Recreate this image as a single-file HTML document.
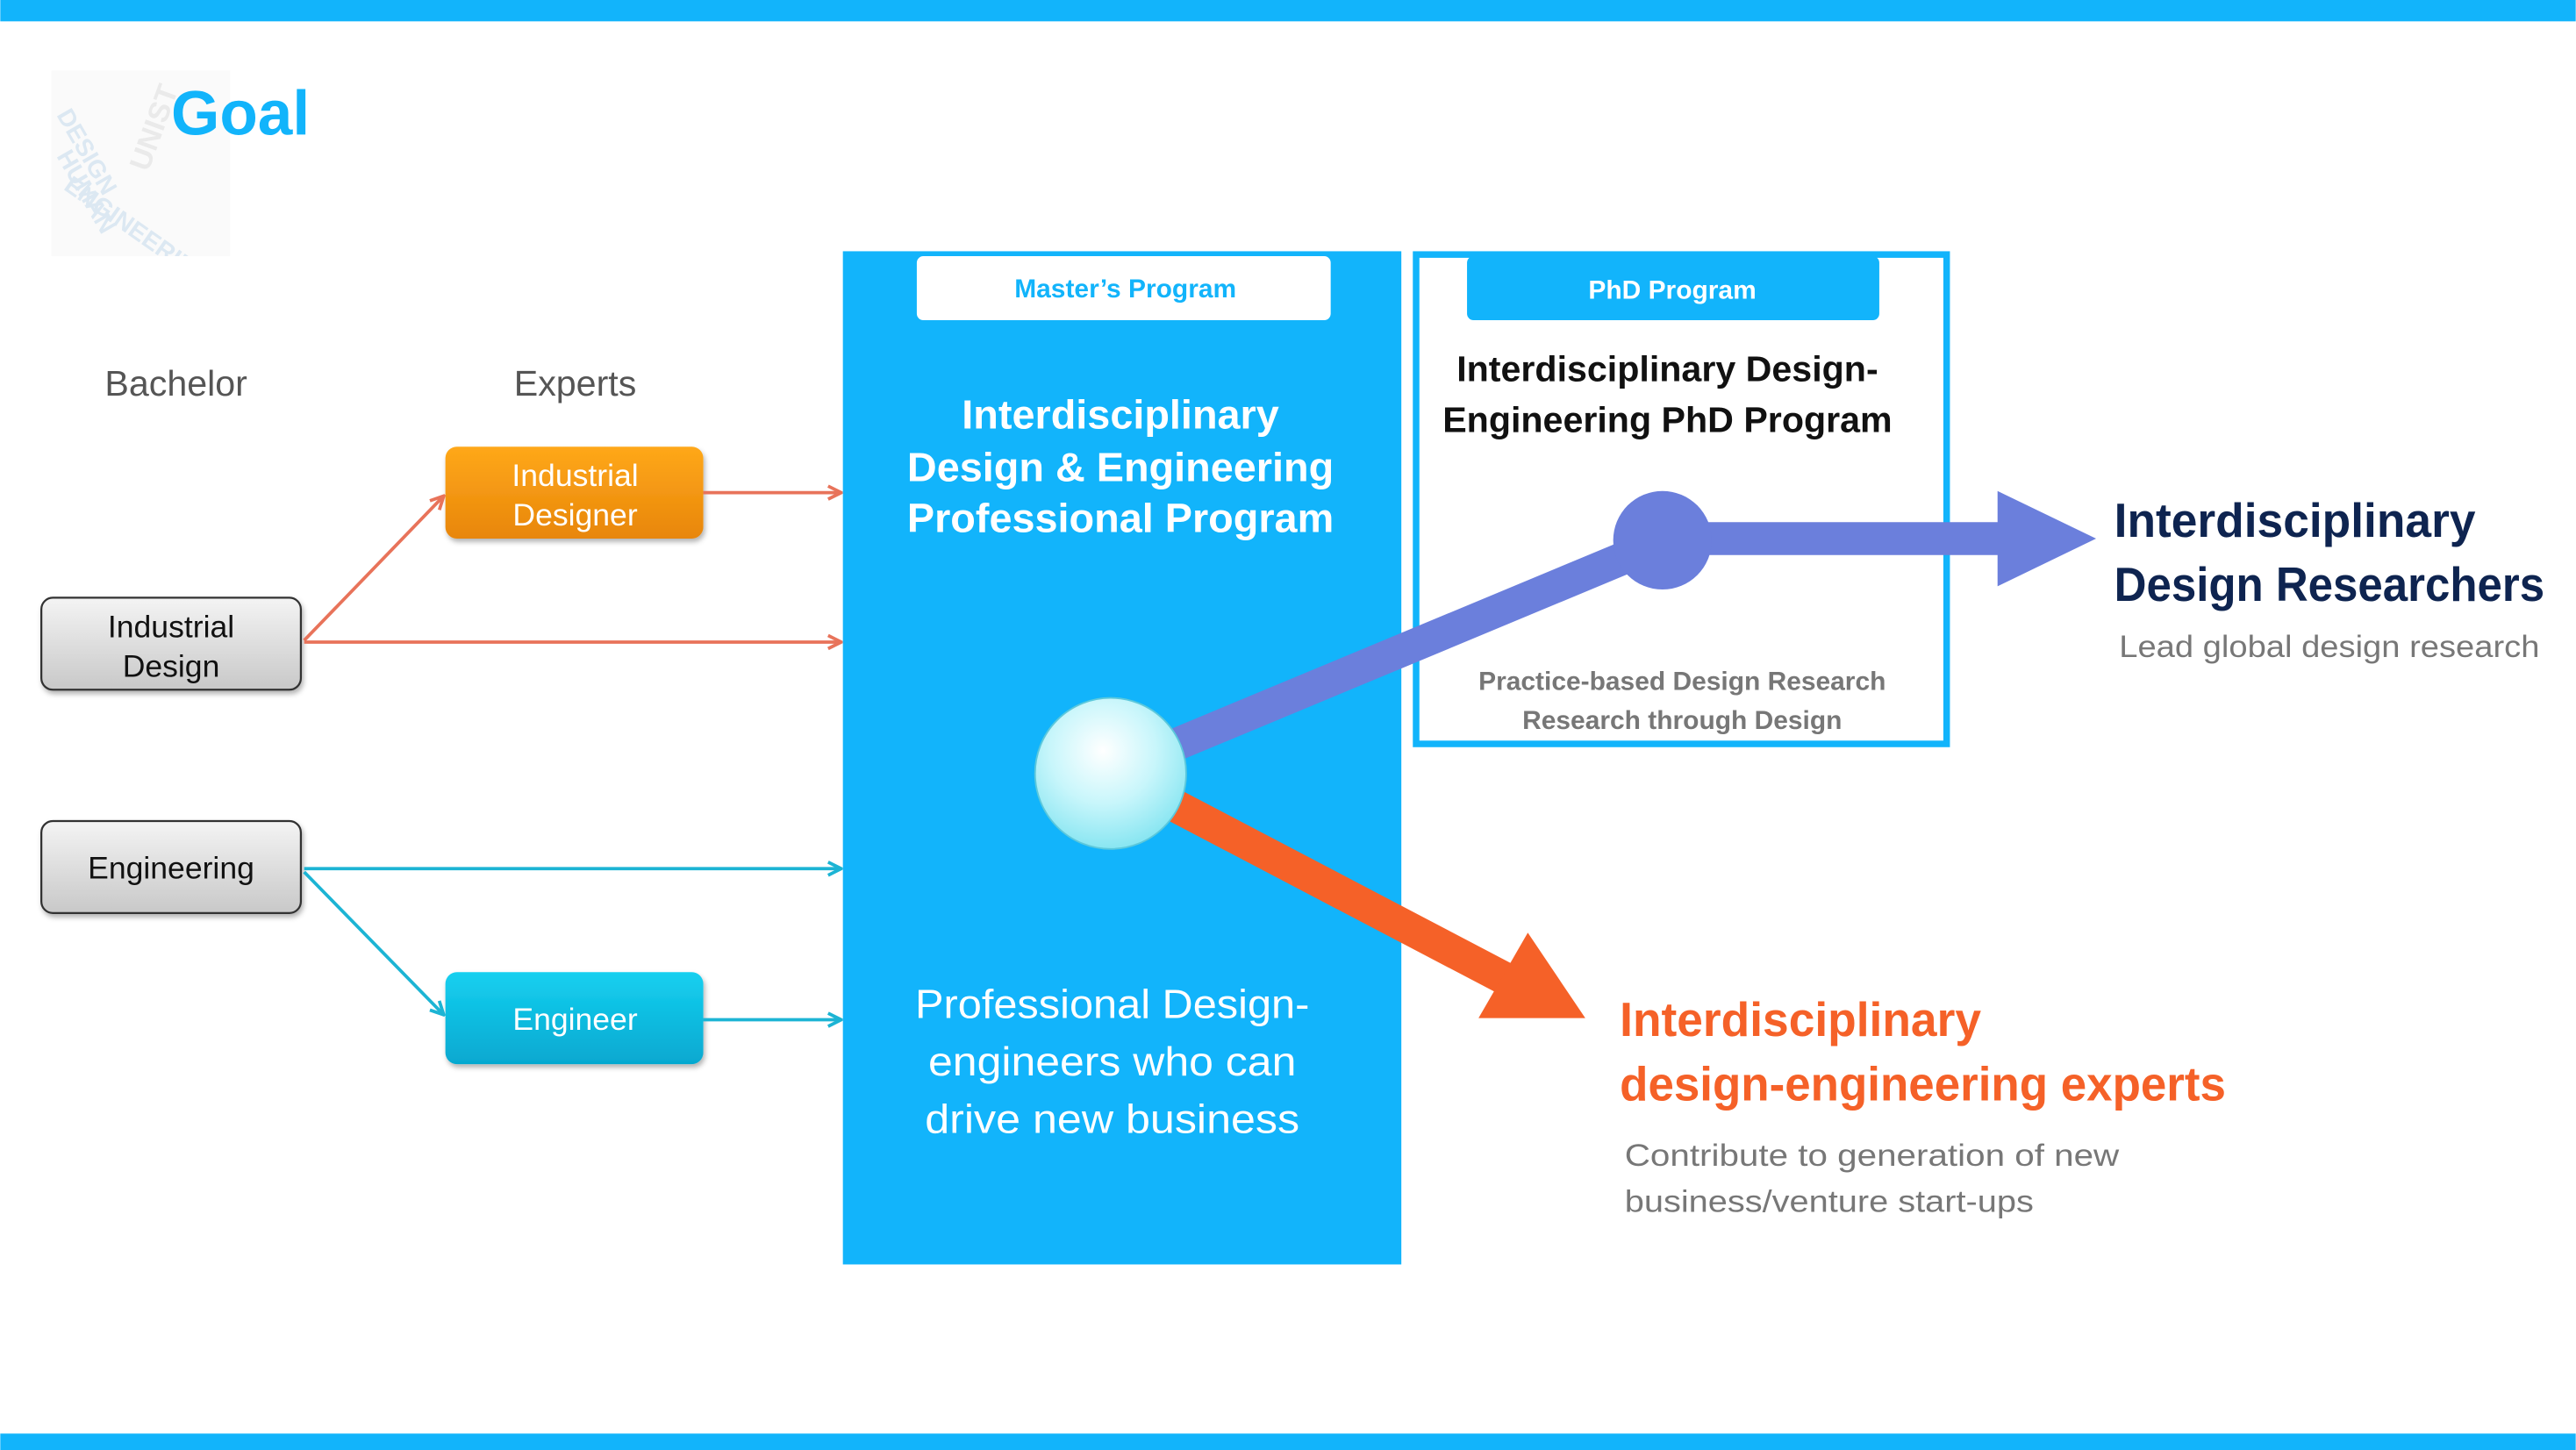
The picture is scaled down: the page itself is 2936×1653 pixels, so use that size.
<!DOCTYPE html>
<html><head><meta charset="utf-8"><style>
html,body{margin:0;padding:0;background:#fff;}
svg{display:block;}
text{font-family:"Liberation Sans",sans-serif;}
</style></head><body>
<svg width="2936" height="1653" viewBox="0 0 1568 883" xmlns="http://www.w3.org/2000/svg">
<defs>
<linearGradient id="gray" x1="0" y1="0" x2="0" y2="1"><stop offset="0" stop-color="#f4f4f4"/><stop offset="1" stop-color="#c8c8c8"/></linearGradient>
<linearGradient id="orange" x1="0" y1="0" x2="0" y2="1"><stop offset="0" stop-color="#ffa81a"/><stop offset="1" stop-color="#e8860a"/></linearGradient>
<linearGradient id="cyan" x1="0" y1="0" x2="0" y2="1"><stop offset="0" stop-color="#16d0f0"/><stop offset="1" stop-color="#06a8d0"/></linearGradient>
<radialGradient id="ball" cx="0.45" cy="0.35" r="0.7"><stop offset="0" stop-color="#ffffff"/><stop offset="0.5" stop-color="#c8f6fb"/><stop offset="1" stop-color="#7ee3f0"/></radialGradient>
<marker id="ao" markerWidth="10" markerHeight="10" refX="9" refY="5" orient="auto" markerUnits="userSpaceOnUse"><path d="M1,1 L9,5 L1,9" fill="none" stroke="#e8735a" stroke-width="2"/></marker>
<marker id="ac" markerWidth="10" markerHeight="10" refX="9" refY="5" orient="auto" markerUnits="userSpaceOnUse"><path d="M1,1 L9,5 L1,9" fill="none" stroke="#1cb4d4" stroke-width="2"/></marker>
<clipPath id="lc"><rect x="31" y="43" width="109" height="113"/></clipPath>
<filter id="sh" x="-10%" y="-10%" width="130%" height="140%"><feDropShadow dx="1" dy="2" stdDeviation="1.5" flood-opacity="0.3"/></filter>
</defs>
<rect x="0" y="0" width="1568" height="13" fill="#12b4fb"/>
<rect x="0" y="873" width="1568" height="10" fill="#12b4fb"/>
<!-- logo -->
<rect x="31" y="43" width="109" height="113" fill="#fafafa"/>
<g clip-path="url(#lc)">
<text x="34" y="70" font-size="15" font-weight="bold" fill="#dce8f2" transform="rotate(60 34 70)">DESIGN</text>
<text x="34" y="95" font-size="15" font-weight="bold" fill="#dce8f2" transform="rotate(60 34 95)">HUMAN</text>
<text x="38" y="115" font-size="15" font-weight="bold" fill="#dce8f2" transform="rotate(35 38 115)">ENGINEERING</text>
<text x="90" y="105" font-size="18" font-weight="bold" fill="#eaeaea" transform="rotate(-70 90 105)">UNIST</text>
</g>
<text x="104" y="82" font-size="38" font-weight="bold" fill="#12b4fb">Goal</text>
<text x="107" y="241" font-size="22" fill="#555" text-anchor="middle">Bachelor</text>
<text x="350" y="241" font-size="22" fill="#555" text-anchor="middle">Experts</text>
<!-- bachelor boxes -->
<rect x="25" y="364" width="158" height="56" rx="7" fill="url(#gray)" stroke="#333" stroke-width="1.2" filter="url(#sh)"/>
<text x="104" y="388" font-size="19" fill="#111" text-anchor="middle">Industrial</text>
<text x="104" y="412" font-size="19" fill="#111" text-anchor="middle">Design</text>
<rect x="25" y="500" width="158" height="56" rx="7" fill="url(#gray)" stroke="#333" stroke-width="1.2" filter="url(#sh)"/>
<text x="104" y="535" font-size="19" fill="#111" text-anchor="middle">Engineering</text>
<!-- expert boxes -->
<rect x="271" y="272" width="157" height="56" rx="7" fill="url(#orange)" filter="url(#sh)"/>
<text x="350" y="296" font-size="19" fill="#fff" text-anchor="middle">Industrial</text>
<text x="350" y="320" font-size="19" fill="#fff" text-anchor="middle">Designer</text>
<rect x="271" y="592" width="157" height="56" rx="7" fill="url(#cyan)" filter="url(#sh)"/>
<text x="350" y="627" font-size="19" fill="#fff" text-anchor="middle">Engineer</text>
<!-- arrows -->
<g stroke="#e8735a" stroke-width="2" fill="none">
<line x1="185" y1="390" x2="270" y2="302" marker-end="url(#ao)"/>
<line x1="185" y1="391" x2="512" y2="391" marker-end="url(#ao)"/>
<line x1="428" y1="300" x2="512" y2="300" marker-end="url(#ao)"/>
</g>
<g stroke="#1cb4d4" stroke-width="2" fill="none">
<line x1="185" y1="529" x2="512" y2="529" marker-end="url(#ac)"/>
<line x1="185" y1="531" x2="270" y2="618" marker-end="url(#ac)"/>
<line x1="428" y1="621" x2="512" y2="621" marker-end="url(#ac)"/>
</g>
<!-- master -->
<rect x="513" y="153" width="340" height="617" fill="#12b4fb"/>
<rect x="558" y="156" width="252" height="39" rx="4" fill="#fff"/>
<text x="685" y="181" font-size="16" font-weight="bold" fill="#12b4fb" text-anchor="middle">Master’s Program</text>
<g font-size="25" font-weight="bold" fill="#fff" text-anchor="middle">
<text x="682" y="261">Interdisciplinary</text>
<text x="682" y="293">Design &amp; Engineering</text>
<text x="682" y="324">Professional Program</text>
</g>
<g font-size="25" fill="#fff" text-anchor="middle">
<text x="677" y="620" textLength="240" lengthAdjust="spacingAndGlyphs">Professional Design-</text>
<text x="677" y="655" textLength="224" lengthAdjust="spacingAndGlyphs">engineers who can</text>
<text x="677" y="690" textLength="228" lengthAdjust="spacingAndGlyphs">drive new business</text>
</g>
<!-- PhD -->
<rect x="862" y="155" width="323" height="298" fill="#fff" stroke="#12b4fb" stroke-width="4"/>
<rect x="893" y="156" width="251" height="39" rx="4" fill="#12b4fb"/>
<text x="1018" y="182" font-size="16" font-weight="bold" fill="#fff" text-anchor="middle">PhD Program</text>
<g font-size="22" font-weight="bold" fill="#111" text-anchor="middle">
<text x="1015" y="232">Interdisciplinary Design-</text>
<text x="1015" y="263">Engineering PhD Program</text>
</g>
<g font-size="16" font-weight="bold" fill="#777" text-anchor="middle">
<text x="1024" y="420">Practice-based Design Research</text>
<text x="1024" y="444">Research through Design</text>
</g>
<!-- thick arrows -->
<line x1="676" y1="470" x2="1012" y2="330" stroke="#6b7fdc" stroke-width="20"/>
<line x1="1012" y1="328" x2="1220" y2="328" stroke="#6b7fdc" stroke-width="20"/>
<polygon points="1216,299 1276,328 1216,357" fill="#6b7fdc"/>
<circle cx="1012" cy="329" r="30" fill="#6b7fdc"/>
<line x1="676" y1="470" x2="920" y2="598" stroke="#f56128" stroke-width="20"/>
<polygon points="900,620 965,620 930,568" fill="#f56128"/>
<circle cx="676" cy="471" r="46" fill="url(#ball)" stroke="#5cc8dc" stroke-width="1"/>
<!-- right texts -->
<g font-size="29" font-weight="bold" fill="#0e2450">
<text x="1287" y="327" textLength="220" lengthAdjust="spacingAndGlyphs">Interdisciplinary</text>
<text x="1287" y="366" textLength="262" lengthAdjust="spacingAndGlyphs">Design Researchers</text>
</g>
<text x="1290" y="400" font-size="19" fill="#777" textLength="256" lengthAdjust="spacingAndGlyphs">Lead global design research</text>
<g font-size="29" font-weight="bold" fill="#f56128">
<text x="986" y="631" textLength="220" lengthAdjust="spacingAndGlyphs">Interdisciplinary</text>
<text x="986" y="670" textLength="369" lengthAdjust="spacingAndGlyphs">design-engineering experts</text>
</g>
<g font-size="19" fill="#777">
<text x="989" y="710" textLength="301" lengthAdjust="spacingAndGlyphs">Contribute to generation of new</text>
<text x="989" y="738" textLength="249" lengthAdjust="spacingAndGlyphs">business/venture start-ups</text>
</g>
</svg>
</body></html>
